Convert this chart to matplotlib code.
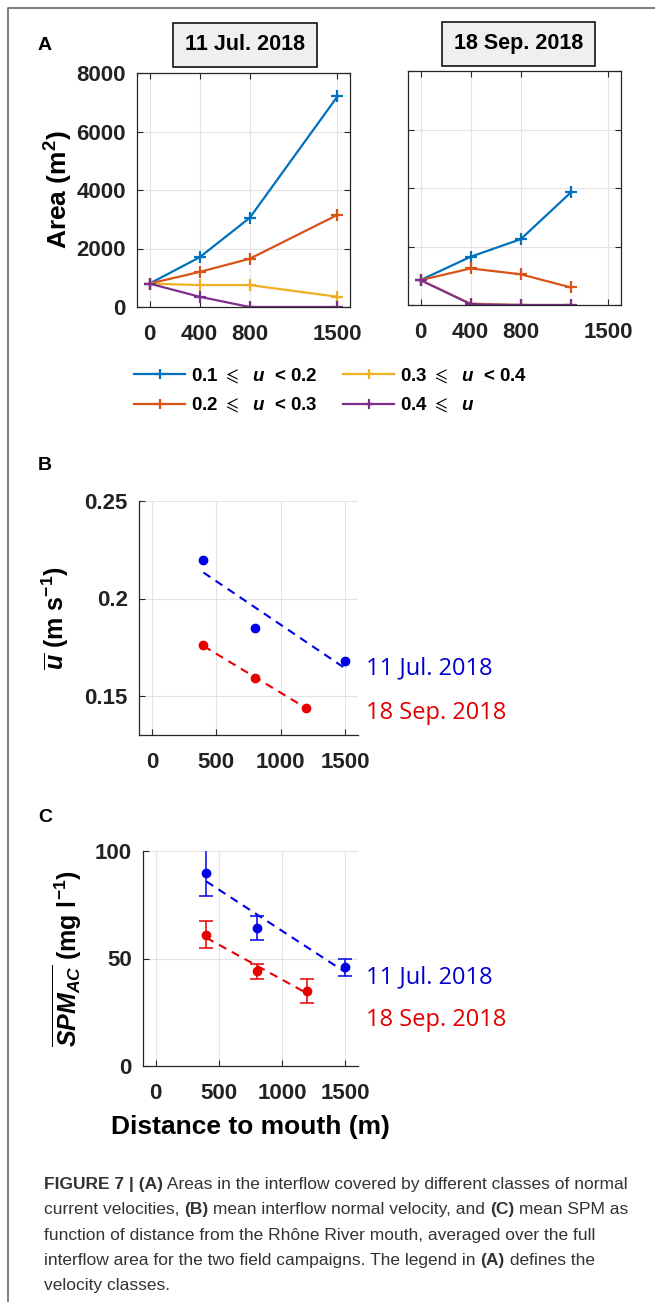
import numpy as np
import matplotlib
matplotlib.use("Agg")
from matplotlib import pyplot as plt
from matplotlib.lines import Line2D
from matplotlib.text import Annotation

plt.rcParams["font.family"] = ["Liberation Sans", "DejaVu Sans"]
plt.rcParams["mathtext.fontset"] = "custom"
plt.rcParams["mathtext.rm"] = "Liberation Sans:bold"
plt.rcParams["mathtext.it"] = "Liberation Sans:italic:bold"
plt.rcParams["mathtext.bf"] = "Liberation Sans:bold"
plt.rcParams["mathtext.fallback"] = "stix"

# ---- data ----
dist_jul = [0, 400, 800, 1500]
dist_sep = [0, 400, 800, 1200]
area_labels = [r"0.1 $\leqslant$  $u$  < 0.2", r"0.2 $\leqslant$  $u$  < 0.3",
               r"0.3 $\leqslant$  $u$  < 0.4", r"0.4 $\leqslant$  $u$"]
area_jul = [
    [800, 1700, 3050, 7200],
    [800, 1200, 1650, 3150],
    [800, 750, 750, 350],
    [800, 350, 0, 0],
]
area_sep = [
    [850, 1650, 2250, 3850],
    [850, 1250, 1050, 600],
    [850, 50, 0, 0],
    [850, 30, 0, 0],
]
class_colors = ["#0072BD", "#D95319", "#EDB120", "#7E2F8E"]

x_jul = [400, 800, 1500]
x_sep = [400, 800, 1200]
u_jul = [0.220, 0.185, 0.168]
u_sep = [0.176, 0.159, 0.144]
spm_jul = [90, 64, 46]
spm_jul_err = [11, 5.6, 4]
spm_sep = [61, 44, 35]
spm_sep_err = [6.3, 3.5, 5.6]

W, H = 655, 1302
fig = plt.figure(figsize=(W / 100, H / 100), dpi=100)


def box(x0, y0, x1, y1):
    # pixel box (top-left origin) -> figure fraction rect
    return [x0 / W, 1 - y1 / H, (x1 - x0) / W, (y1 - y0) / H]


axis_gray = "#262626"
grid_gray = "#e3e3e3"


def style(ax, full_box):
    for s in ax.spines.values():
        s.set_color(axis_gray)
        s.set_linewidth(0.9)
    if not full_box:
        ax.spines["top"].set_visible(False)
        ax.spines["right"].set_visible(False)
    ax.grid(True, color=grid_gray, linewidth=0.8)
    ax.set_axisbelow(True)
    ax.tick_params(direction="in", length=4, width=0.8, color=axis_gray,
                   top=full_box, right=full_box, labelsize=16)
    ax.tick_params(axis="x", pad=12)
    ax.tick_params(axis="y", pad=8)
    for t in ax.get_xticklabels() + ax.get_yticklabels():
        t.set_fontweight("bold")
        t.set_color("#222222")


# ---- panel A ----
axA1 = fig.add_axes(box(137, 73, 350, 307))
axA2 = fig.add_axes(box(408, 71, 621, 305))
for ax, xs, data in ((axA1, dist_jul, area_jul), (axA2, dist_sep, area_sep)):
    for vals, c, lab in zip(data, class_colors, area_labels):
        ax.plot(xs, vals, color=c, lw=1.6, marker="+", ms=9, mew=1.6, label=lab)
    ax.set_xlim(-100, 1600)
    ax.set_ylim(0, 8000)
    ax.set_xticks([0, 400, 800, 1500])
    ax.set_yticks([0, 2000, 4000, 6000, 8000])
    style(ax, True)
axA2.set_yticklabels([])
axA1.set_ylabel("Area (m$^{2}$)", fontsize=19, fontweight="bold", labelpad=1)

fig.text(185 / W, 1 - 45 / H, "11 Jul. 2018", fontsize=15.5, fontweight="bold",
         va="center", ha="left",
         bbox=dict(boxstyle="square,pad=0.55", fc="#efefef", ec="black", lw=1.1))
fig.text(454 / W, 1 - 44 / H, "18 Sep. 2018", fontsize=15.5, fontweight="bold",
         va="center", ha="left",
         bbox=dict(boxstyle="square,pad=0.55", fc="#efefef", ec="black", lw=1.1))

handles, labels = axA1.get_legend_handles_labels()
fig.legend(handles, labels, ncol=2, loc="upper left",
           bbox_to_anchor=(125 / W, 1 - 357 / H), frameon=False,
           prop=dict(weight="bold", size=13.5), handlelength=2.7,
           handletextpad=0.3, columnspacing=1.4, labelspacing=0.55,
           borderpad=0, markerscale=0.8)

# ---- panel B ----
axB = fig.add_axes(box(139, 501, 358, 735))
axB.plot(x_jul, u_jul, "o", color="#0000e6", ms=6)
axB.plot(x_sep, u_sep, "o", color="#e60000", ms=6)
for xs, ys, c in ((x_jul, u_jul, "#0000e6"), (x_sep, u_sep, "#e60000")):
    p = np.polyfit(xs, ys, 1)
    xx = np.array([xs[0], xs[-1]])
    axB.plot(xx, np.polyval(p, xx), "--", color=c, lw=1.5, dashes=(4, 3))
axB.set_xlim(-100, 1600)
axB.set_ylim(0.13, 0.25)
axB.set_xticks([0, 500, 1000, 1500])
axB.set_yticks([0.15, 0.2, 0.25])
axB.set_yticklabels(["0.15", "0.2", "0.25"])
style(axB, False)
axB.set_ylabel(r"$\overline{u}$ (m s$^{\mathregular{-1}}$)", fontsize=18,
               fontweight="bold", labelpad=10)
date_font = ["Open Sans", "DejaVu Sans"]
fig.text(366 / W, 1 - 668 / H, "11 Jul. 2018", color="#0000cc", fontsize=17,
         va="center", fontfamily=date_font)
fig.text(366 / W, 1 - 713 / H, "18 Sep. 2018", color="#e00000", fontsize=17,
         va="center", fontfamily=date_font)

# ---- panel C ----
axC = fig.add_axes(box(143, 851, 358, 1066))
axC.errorbar(x_jul, spm_jul, yerr=spm_jul_err, fmt="o", color="#0000e6",
             ms=6, capsize=5, elinewidth=1.1, capthick=1.1)
axC.errorbar(x_sep, spm_sep, yerr=spm_sep_err, fmt="o", color="#e60000",
             ms=6, capsize=5, elinewidth=1.1, capthick=1.1)
for xs, ys, c in ((x_jul, spm_jul, "#0000e6"), (x_sep, spm_sep, "#e60000")):
    p = np.polyfit(xs, ys, 1)
    xx = np.array([xs[0], xs[-1]])
    axC.plot(xx, np.polyval(p, xx), "--", color=c, lw=1.5, dashes=(4, 3))
axC.set_xlim(-100, 1600)
axC.set_ylim(0, 100)
axC.set_xticks([0, 500, 1000, 1500])
axC.set_yticks([0, 50, 100])
style(axC, False)
axC.set_ylabel(r"$\overline{SPM_{AC}}$ (mg l$^{\mathregular{-1}}$)", fontsize=18,
               fontweight="bold", labelpad=8)
axC.set_xlabel("Distance to mouth (m)", fontsize=19, fontweight="bold", labelpad=8)
fig.text(366 / W, 1 - 977 / H, "11 Jul. 2018", color="#0000cc", fontsize=17,
         va="center", fontfamily=date_font)
fig.text(366 / W, 1 - 1020 / H, "18 Sep. 2018", color="#e00000", fontsize=17,
         va="center", fontfamily=date_font)

# ---- panel letters ----
for lab, y in (("A", 45), ("B", 465), ("C", 817)):
    fig.text(38 / W, 1 - y / H, lab, fontsize=14, fontweight="bold", va="center")

# ---- frame ----
fig.add_artist(Line2D([8 / W, 8 / W, 1.0], [0, 1 - 8 / H, 1 - 8 / H],
                      color="#666666", lw=1.2))

# ---- caption ----
cap_font = ["Liberation Sans", "DejaVu Sans"]
caption = [
    [("FIGURE 7 | (A)", True), (" Areas in the interflow covered by different classes of normal", False)],
    [("current velocities, ", False), ("(B)", True), (" mean interflow normal velocity, and ", False),
     ("(C)", True), (" mean SPM as", False)],
    [("function of distance from the Rhône River mouth, averaged over the full", False)],
    [("interflow area for the two field campaigns. The legend in ", False), ("(A)", True),
     (" defines the", False)],
    [("velocity classes.", False)],
]
for i, line in enumerate(caption):
    y = 1 - (1192 + 25.3 * i) / H
    prev = None
    for txt, bold in line:
        kw = dict(fontsize=12.5, fontfamily=cap_font, color="#333333",
                  fontweight="bold" if bold else "normal", va="bottom", ha="left")
        if prev is None:
            prev = fig.text(44 / W, y, txt, **kw)
        else:
            ann = Annotation(txt, xy=(1, 0), xycoords=prev, annotation_clip=False, **kw)
            fig.add_artist(ann)
            prev = ann

fig.savefig("out.png", dpi=100)
